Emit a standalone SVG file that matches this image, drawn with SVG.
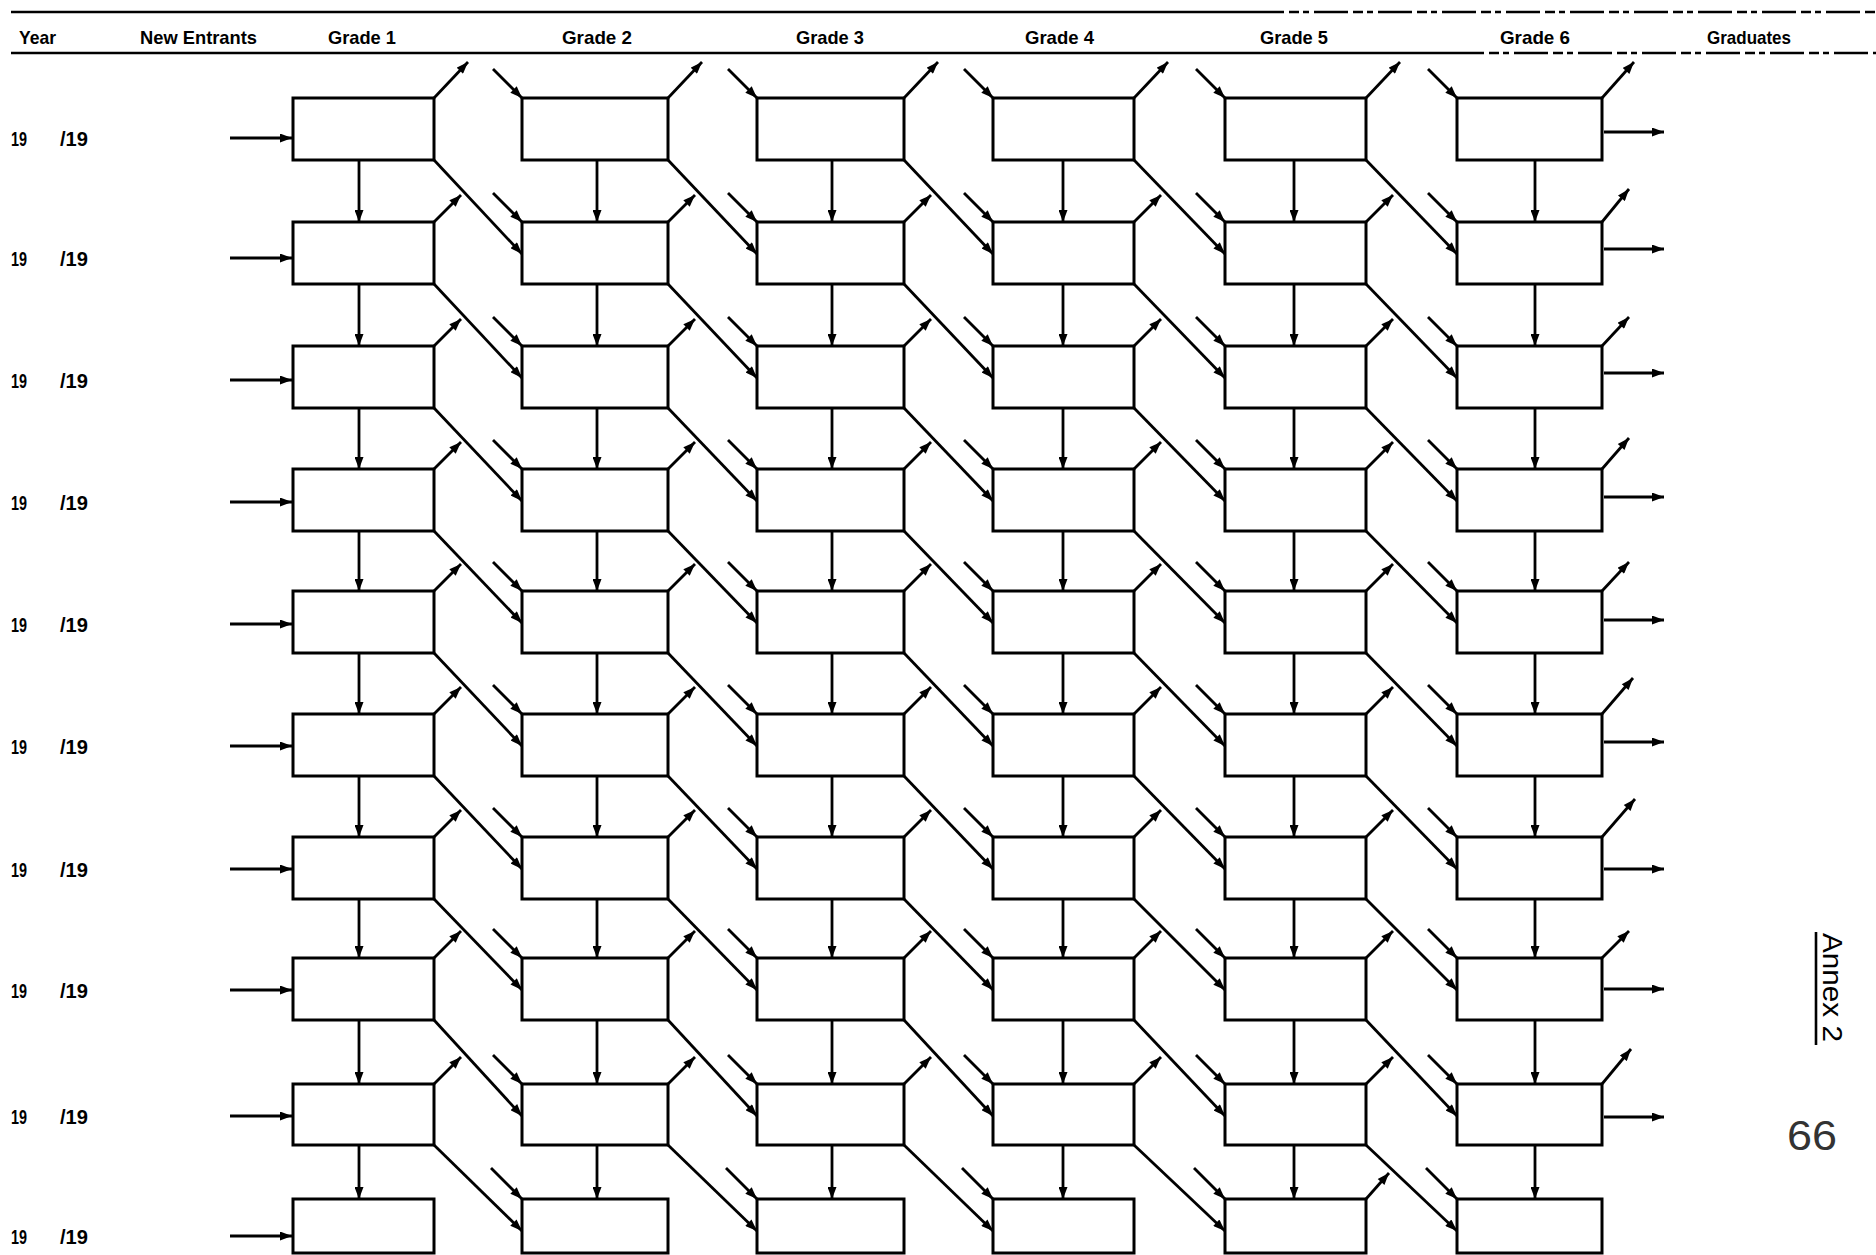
<svg xmlns="http://www.w3.org/2000/svg" width="1876" height="1255" viewBox="0 0 1876 1255">
<style>
.bg{fill:#ffffff}
.node rect{fill:none;stroke:#000;stroke-width:3}
.c line{stroke:#000;stroke-width:2.8;marker-end:url(#ah)}
.hl{stroke:#000;stroke-width:2.6}
.hd{stroke:#000;stroke-width:2.6;stroke-dasharray:34 5 10 4 6 5}
.h{font-family:"Liberation Sans",Arial,sans-serif;font-weight:bold;font-size:19px;fill:#000}
.y{font-family:"Liberation Sans",Arial,sans-serif;font-weight:bold;font-size:20px;fill:#000}
.an{font-family:"Liberation Sans",Arial,sans-serif;font-size:28px;fill:#000}
.pg{font-family:"Liberation Sans",Arial,sans-serif;font-size:42px;fill:#333}
</style>
<defs>
<marker id="ah" viewBox="0 0 12 9" refX="12" refY="4.5" markerWidth="13" markerHeight="9" markerUnits="userSpaceOnUse" orient="auto">
<path d="M0,0 L12,4.5 L0,9 z" fill="#000"/>
</marker>
</defs>
<rect class="bg" x="0" y="0" width="1876" height="1255"/>

<g id="header">
<line class="hl" x1="11" y1="12" x2="1250" y2="12"/>
<line class="hd" x1="1250" y1="12" x2="1876" y2="12"/>
<line class="hl" x1="11" y1="53" x2="1450" y2="53"/>
<line class="hd" x1="1450" y1="53" x2="1876" y2="53"/>
<text class="h" x="19" y="44" textLength="37" lengthAdjust="spacingAndGlyphs">Year</text>
<text class="h" x="140" y="44" textLength="117" lengthAdjust="spacingAndGlyphs">New Entrants</text>
<text class="h" x="328" y="44" textLength="68" lengthAdjust="spacingAndGlyphs">Grade 1</text>
<text class="h" x="562" y="44" textLength="70" lengthAdjust="spacingAndGlyphs">Grade 2</text>
<text class="h" x="796" y="44" textLength="68" lengthAdjust="spacingAndGlyphs">Grade 3</text>
<text class="h" x="1025" y="44" textLength="69" lengthAdjust="spacingAndGlyphs">Grade 4</text>
<text class="h" x="1260" y="44" textLength="68" lengthAdjust="spacingAndGlyphs">Grade 5</text>
<text class="h" x="1500" y="44" textLength="70" lengthAdjust="spacingAndGlyphs">Grade 6</text>
<text class="h" x="1707" y="44" textLength="84" lengthAdjust="spacingAndGlyphs">Graduates</text>
</g>

<g id="years">
<text class="y" x="11" y="146" textLength="16" lengthAdjust="spacingAndGlyphs">19</text><text class="y" x="60" y="146" textLength="28" lengthAdjust="spacingAndGlyphs">/19</text>
<text class="y" x="11" y="266" textLength="16" lengthAdjust="spacingAndGlyphs">19</text><text class="y" x="60" y="266" textLength="28" lengthAdjust="spacingAndGlyphs">/19</text>
<text class="y" x="11" y="388" textLength="16" lengthAdjust="spacingAndGlyphs">19</text><text class="y" x="60" y="388" textLength="28" lengthAdjust="spacingAndGlyphs">/19</text>
<text class="y" x="11" y="510" textLength="16" lengthAdjust="spacingAndGlyphs">19</text><text class="y" x="60" y="510" textLength="28" lengthAdjust="spacingAndGlyphs">/19</text>
<text class="y" x="11" y="632" textLength="16" lengthAdjust="spacingAndGlyphs">19</text><text class="y" x="60" y="632" textLength="28" lengthAdjust="spacingAndGlyphs">/19</text>
<text class="y" x="11" y="754" textLength="16" lengthAdjust="spacingAndGlyphs">19</text><text class="y" x="60" y="754" textLength="28" lengthAdjust="spacingAndGlyphs">/19</text>
<text class="y" x="11" y="877" textLength="16" lengthAdjust="spacingAndGlyphs">19</text><text class="y" x="60" y="877" textLength="28" lengthAdjust="spacingAndGlyphs">/19</text>
<text class="y" x="11" y="998" textLength="16" lengthAdjust="spacingAndGlyphs">19</text><text class="y" x="60" y="998" textLength="28" lengthAdjust="spacingAndGlyphs">/19</text>
<text class="y" x="11" y="1124" textLength="16" lengthAdjust="spacingAndGlyphs">19</text><text class="y" x="60" y="1124" textLength="28" lengthAdjust="spacingAndGlyphs">/19</text>
<text class="y" x="11" y="1244" textLength="16" lengthAdjust="spacingAndGlyphs">19</text><text class="y" x="60" y="1244" textLength="28" lengthAdjust="spacingAndGlyphs">/19</text>
</g>

<g id="boxes">
<g id="r1-g1" class="node"><rect x="293" y="98" width="141" height="62"/></g>
<g id="r1-g2" class="node"><rect x="522" y="98" width="146" height="62"/></g>
<g id="r1-g3" class="node"><rect x="757" y="98" width="147" height="62"/></g>
<g id="r1-g4" class="node"><rect x="993" y="98" width="141" height="62"/></g>
<g id="r1-g5" class="node"><rect x="1225" y="98" width="141" height="62"/></g>
<g id="r1-g6" class="node"><rect x="1457" y="98" width="145" height="62"/></g>

<g id="r2-g1" class="node"><rect x="293" y="222" width="141" height="62"/></g>
<g id="r2-g2" class="node"><rect x="522" y="222" width="146" height="62"/></g>
<g id="r2-g3" class="node"><rect x="757" y="222" width="147" height="62"/></g>
<g id="r2-g4" class="node"><rect x="993" y="222" width="141" height="62"/></g>
<g id="r2-g5" class="node"><rect x="1225" y="222" width="141" height="62"/></g>
<g id="r2-g6" class="node"><rect x="1457" y="222" width="145" height="62"/></g>

<g id="r3-g1" class="node"><rect x="293" y="346" width="141" height="62"/></g>
<g id="r3-g2" class="node"><rect x="522" y="346" width="146" height="62"/></g>
<g id="r3-g3" class="node"><rect x="757" y="346" width="147" height="62"/></g>
<g id="r3-g4" class="node"><rect x="993" y="346" width="141" height="62"/></g>
<g id="r3-g5" class="node"><rect x="1225" y="346" width="141" height="62"/></g>
<g id="r3-g6" class="node"><rect x="1457" y="346" width="145" height="62"/></g>

<g id="r4-g1" class="node"><rect x="293" y="469" width="141" height="62"/></g>
<g id="r4-g2" class="node"><rect x="522" y="469" width="146" height="62"/></g>
<g id="r4-g3" class="node"><rect x="757" y="469" width="147" height="62"/></g>
<g id="r4-g4" class="node"><rect x="993" y="469" width="141" height="62"/></g>
<g id="r4-g5" class="node"><rect x="1225" y="469" width="141" height="62"/></g>
<g id="r4-g6" class="node"><rect x="1457" y="469" width="145" height="62"/></g>

<g id="r5-g1" class="node"><rect x="293" y="591" width="141" height="62"/></g>
<g id="r5-g2" class="node"><rect x="522" y="591" width="146" height="62"/></g>
<g id="r5-g3" class="node"><rect x="757" y="591" width="147" height="62"/></g>
<g id="r5-g4" class="node"><rect x="993" y="591" width="141" height="62"/></g>
<g id="r5-g5" class="node"><rect x="1225" y="591" width="141" height="62"/></g>
<g id="r5-g6" class="node"><rect x="1457" y="591" width="145" height="62"/></g>

<g id="r6-g1" class="node"><rect x="293" y="714" width="141" height="62"/></g>
<g id="r6-g2" class="node"><rect x="522" y="714" width="146" height="62"/></g>
<g id="r6-g3" class="node"><rect x="757" y="714" width="147" height="62"/></g>
<g id="r6-g4" class="node"><rect x="993" y="714" width="141" height="62"/></g>
<g id="r6-g5" class="node"><rect x="1225" y="714" width="141" height="62"/></g>
<g id="r6-g6" class="node"><rect x="1457" y="714" width="145" height="62"/></g>

<g id="r7-g1" class="node"><rect x="293" y="837" width="141" height="62"/></g>
<g id="r7-g2" class="node"><rect x="522" y="837" width="146" height="62"/></g>
<g id="r7-g3" class="node"><rect x="757" y="837" width="147" height="62"/></g>
<g id="r7-g4" class="node"><rect x="993" y="837" width="141" height="62"/></g>
<g id="r7-g5" class="node"><rect x="1225" y="837" width="141" height="62"/></g>
<g id="r7-g6" class="node"><rect x="1457" y="837" width="145" height="62"/></g>

<g id="r8-g1" class="node"><rect x="293" y="958" width="141" height="62"/></g>
<g id="r8-g2" class="node"><rect x="522" y="958" width="146" height="62"/></g>
<g id="r8-g3" class="node"><rect x="757" y="958" width="147" height="62"/></g>
<g id="r8-g4" class="node"><rect x="993" y="958" width="141" height="62"/></g>
<g id="r8-g5" class="node"><rect x="1225" y="958" width="141" height="62"/></g>
<g id="r8-g6" class="node"><rect x="1457" y="958" width="145" height="62"/></g>

<g id="r9-g1" class="node"><rect x="293" y="1084" width="141" height="61"/></g>
<g id="r9-g2" class="node"><rect x="522" y="1084" width="146" height="61"/></g>
<g id="r9-g3" class="node"><rect x="757" y="1084" width="147" height="61"/></g>
<g id="r9-g4" class="node"><rect x="993" y="1084" width="141" height="61"/></g>
<g id="r9-g5" class="node"><rect x="1225" y="1084" width="141" height="61"/></g>
<g id="r9-g6" class="node"><rect x="1457" y="1084" width="145" height="61"/></g>

<g id="r10-g1" class="node"><rect x="293" y="1199" width="141" height="54"/></g>
<g id="r10-g2" class="node"><rect x="522" y="1199" width="146" height="54"/></g>
<g id="r10-g3" class="node"><rect x="757" y="1199" width="147" height="54"/></g>
<g id="r10-g4" class="node"><rect x="993" y="1199" width="141" height="54"/></g>
<g id="r10-g5" class="node"><rect x="1225" y="1199" width="141" height="54"/></g>
<g id="r10-g6" class="node"><rect x="1457" y="1199" width="145" height="54"/></g>
</g>

<g id="connectors" class="c">
<g id="entrants">
<line x1="230" y1="138" x2="292" y2="138"/>
<line x1="230" y1="258" x2="292" y2="258"/>
<line x1="230" y1="380" x2="292" y2="380"/>
<line x1="230" y1="502" x2="292" y2="502"/>
<line x1="230" y1="624" x2="292" y2="624"/>
<line x1="230" y1="746" x2="292" y2="746"/>
<line x1="230" y1="869" x2="292" y2="869"/>
<line x1="230" y1="990" x2="292" y2="990"/>
<line x1="230" y1="1116" x2="292" y2="1116"/>
<line x1="230" y1="1236" x2="292" y2="1236"/>
</g>
<g id="repeaters">
<line x1="359" y1="160" x2="359" y2="222"/><line x1="597" y1="160" x2="597" y2="222"/><line x1="832" y1="160" x2="832" y2="222"/><line x1="1063" y1="160" x2="1063" y2="222"/><line x1="1294" y1="160" x2="1294" y2="222"/><line x1="1535" y1="160" x2="1535" y2="222"/>
<line x1="359" y1="284" x2="359" y2="346"/><line x1="597" y1="284" x2="597" y2="346"/><line x1="832" y1="284" x2="832" y2="346"/><line x1="1063" y1="284" x2="1063" y2="346"/><line x1="1294" y1="284" x2="1294" y2="346"/><line x1="1535" y1="284" x2="1535" y2="346"/>
<line x1="359" y1="408" x2="359" y2="469"/><line x1="597" y1="408" x2="597" y2="469"/><line x1="832" y1="408" x2="832" y2="469"/><line x1="1063" y1="408" x2="1063" y2="469"/><line x1="1294" y1="408" x2="1294" y2="469"/><line x1="1535" y1="408" x2="1535" y2="469"/>
<line x1="359" y1="531" x2="359" y2="591"/><line x1="597" y1="531" x2="597" y2="591"/><line x1="832" y1="531" x2="832" y2="591"/><line x1="1063" y1="531" x2="1063" y2="591"/><line x1="1294" y1="531" x2="1294" y2="591"/><line x1="1535" y1="531" x2="1535" y2="591"/>
<line x1="359" y1="653" x2="359" y2="714"/><line x1="597" y1="653" x2="597" y2="714"/><line x1="832" y1="653" x2="832" y2="714"/><line x1="1063" y1="653" x2="1063" y2="714"/><line x1="1294" y1="653" x2="1294" y2="714"/><line x1="1535" y1="653" x2="1535" y2="714"/>
<line x1="359" y1="776" x2="359" y2="837"/><line x1="597" y1="776" x2="597" y2="837"/><line x1="832" y1="776" x2="832" y2="837"/><line x1="1063" y1="776" x2="1063" y2="837"/><line x1="1294" y1="776" x2="1294" y2="837"/><line x1="1535" y1="776" x2="1535" y2="837"/>
<line x1="359" y1="899" x2="359" y2="958"/><line x1="597" y1="899" x2="597" y2="958"/><line x1="832" y1="899" x2="832" y2="958"/><line x1="1063" y1="899" x2="1063" y2="958"/><line x1="1294" y1="899" x2="1294" y2="958"/><line x1="1535" y1="899" x2="1535" y2="958"/>
<line x1="359" y1="1020" x2="359" y2="1084"/><line x1="597" y1="1020" x2="597" y2="1084"/><line x1="832" y1="1020" x2="832" y2="1084"/><line x1="1063" y1="1020" x2="1063" y2="1084"/><line x1="1294" y1="1020" x2="1294" y2="1084"/><line x1="1535" y1="1020" x2="1535" y2="1084"/>
<line x1="359" y1="1145" x2="359" y2="1199"/><line x1="597" y1="1145" x2="597" y2="1199"/><line x1="832" y1="1145" x2="832" y2="1199"/><line x1="1063" y1="1145" x2="1063" y2="1199"/><line x1="1294" y1="1145" x2="1294" y2="1199"/><line x1="1535" y1="1145" x2="1535" y2="1199"/>
</g>
<g id="promotions">
<line x1="434" y1="160" x2="522" y2="254"/><line x1="668" y1="160" x2="757" y2="254"/><line x1="904" y1="160" x2="993" y2="254"/><line x1="1134" y1="160" x2="1225" y2="254"/><line x1="1366" y1="160" x2="1457" y2="254"/>
<line x1="434" y1="284" x2="522" y2="378"/><line x1="668" y1="284" x2="757" y2="378"/><line x1="904" y1="284" x2="993" y2="378"/><line x1="1134" y1="284" x2="1225" y2="378"/><line x1="1366" y1="284" x2="1457" y2="378"/>
<line x1="434" y1="408" x2="522" y2="501"/><line x1="668" y1="408" x2="757" y2="501"/><line x1="904" y1="408" x2="993" y2="501"/><line x1="1134" y1="408" x2="1225" y2="501"/><line x1="1366" y1="408" x2="1457" y2="501"/>
<line x1="434" y1="531" x2="522" y2="623"/><line x1="668" y1="531" x2="757" y2="623"/><line x1="904" y1="531" x2="993" y2="623"/><line x1="1134" y1="531" x2="1225" y2="623"/><line x1="1366" y1="531" x2="1457" y2="623"/>
<line x1="434" y1="653" x2="522" y2="746"/><line x1="668" y1="653" x2="757" y2="746"/><line x1="904" y1="653" x2="993" y2="746"/><line x1="1134" y1="653" x2="1225" y2="746"/><line x1="1366" y1="653" x2="1457" y2="746"/>
<line x1="434" y1="776" x2="522" y2="869"/><line x1="668" y1="776" x2="757" y2="869"/><line x1="904" y1="776" x2="993" y2="869"/><line x1="1134" y1="776" x2="1225" y2="869"/><line x1="1366" y1="776" x2="1457" y2="869"/>
<line x1="434" y1="899" x2="522" y2="990"/><line x1="668" y1="899" x2="757" y2="990"/><line x1="904" y1="899" x2="993" y2="990"/><line x1="1134" y1="899" x2="1225" y2="990"/><line x1="1366" y1="899" x2="1457" y2="990"/>
<line x1="434" y1="1020" x2="522" y2="1116"/><line x1="668" y1="1020" x2="757" y2="1116"/><line x1="904" y1="1020" x2="993" y2="1116"/><line x1="1134" y1="1020" x2="1225" y2="1116"/><line x1="1366" y1="1020" x2="1457" y2="1116"/>
<line x1="434" y1="1145" x2="522" y2="1231"/><line x1="668" y1="1145" x2="757" y2="1231"/><line x1="904" y1="1145" x2="993" y2="1231"/><line x1="1134" y1="1145" x2="1225" y2="1231"/><line x1="1366" y1="1145" x2="1457" y2="1231"/>
</g>
<g id="inflows">
<line x1="493" y1="69" x2="522" y2="98"/><line x1="728" y1="69" x2="757" y2="98"/><line x1="964" y1="69" x2="993" y2="98"/><line x1="1196" y1="69" x2="1225" y2="98"/><line x1="1428" y1="69" x2="1457" y2="98"/>
<line x1="493" y1="193" x2="522" y2="222"/><line x1="728" y1="193" x2="757" y2="222"/><line x1="964" y1="193" x2="993" y2="222"/><line x1="1196" y1="193" x2="1225" y2="222"/><line x1="1428" y1="193" x2="1457" y2="222"/>
<line x1="493" y1="317" x2="522" y2="346"/><line x1="728" y1="317" x2="757" y2="346"/><line x1="964" y1="317" x2="993" y2="346"/><line x1="1196" y1="317" x2="1225" y2="346"/><line x1="1428" y1="317" x2="1457" y2="346"/>
<line x1="493" y1="440" x2="522" y2="469"/><line x1="728" y1="440" x2="757" y2="469"/><line x1="964" y1="440" x2="993" y2="469"/><line x1="1196" y1="440" x2="1225" y2="469"/><line x1="1428" y1="440" x2="1457" y2="469"/>
<line x1="493" y1="562" x2="522" y2="591"/><line x1="728" y1="562" x2="757" y2="591"/><line x1="964" y1="562" x2="993" y2="591"/><line x1="1196" y1="562" x2="1225" y2="591"/><line x1="1428" y1="562" x2="1457" y2="591"/>
<line x1="493" y1="685" x2="522" y2="714"/><line x1="728" y1="685" x2="757" y2="714"/><line x1="964" y1="685" x2="993" y2="714"/><line x1="1196" y1="685" x2="1225" y2="714"/><line x1="1428" y1="685" x2="1457" y2="714"/>
<line x1="493" y1="808" x2="522" y2="837"/><line x1="728" y1="808" x2="757" y2="837"/><line x1="964" y1="808" x2="993" y2="837"/><line x1="1196" y1="808" x2="1225" y2="837"/><line x1="1428" y1="808" x2="1457" y2="837"/>
<line x1="493" y1="929" x2="522" y2="958"/><line x1="728" y1="929" x2="757" y2="958"/><line x1="964" y1="929" x2="993" y2="958"/><line x1="1196" y1="929" x2="1225" y2="958"/><line x1="1428" y1="929" x2="1457" y2="958"/>
<line x1="493" y1="1055" x2="522" y2="1084"/><line x1="728" y1="1055" x2="757" y2="1084"/><line x1="964" y1="1055" x2="993" y2="1084"/><line x1="1196" y1="1055" x2="1225" y2="1084"/><line x1="1428" y1="1055" x2="1457" y2="1084"/>
<line x1="491" y1="1168" x2="522" y2="1199"/><line x1="726" y1="1168" x2="757" y2="1199"/><line x1="962" y1="1168" x2="993" y2="1199"/><line x1="1194" y1="1168" x2="1225" y2="1199"/><line x1="1426" y1="1168" x2="1457" y2="1199"/>
</g>
<g id="dropouts">
<line x1="434" y1="98" x2="468" y2="62"/><line x1="668" y1="98" x2="702" y2="62"/><line x1="904" y1="98" x2="938" y2="62"/><line x1="1134" y1="98" x2="1168" y2="62"/><line x1="1366" y1="98" x2="1400" y2="62"/><line x1="1602" y1="98" x2="1634" y2="62"/>
<line x1="434" y1="222" x2="461" y2="195"/><line x1="668" y1="222" x2="695" y2="195"/><line x1="904" y1="222" x2="931" y2="195"/><line x1="1134" y1="222" x2="1161" y2="195"/><line x1="1366" y1="222" x2="1393" y2="195"/><line x1="1602" y1="222" x2="1629" y2="189"/>
<line x1="434" y1="346" x2="461" y2="319"/><line x1="668" y1="346" x2="695" y2="319"/><line x1="904" y1="346" x2="931" y2="319"/><line x1="1134" y1="346" x2="1161" y2="319"/><line x1="1366" y1="346" x2="1393" y2="319"/><line x1="1602" y1="346" x2="1629" y2="317"/>
<line x1="434" y1="469" x2="461" y2="442"/><line x1="668" y1="469" x2="695" y2="442"/><line x1="904" y1="469" x2="931" y2="442"/><line x1="1134" y1="469" x2="1161" y2="442"/><line x1="1366" y1="469" x2="1393" y2="442"/><line x1="1602" y1="469" x2="1629" y2="438"/>
<line x1="434" y1="591" x2="461" y2="564"/><line x1="668" y1="591" x2="695" y2="564"/><line x1="904" y1="591" x2="931" y2="564"/><line x1="1134" y1="591" x2="1161" y2="564"/><line x1="1366" y1="591" x2="1393" y2="564"/><line x1="1602" y1="591" x2="1629" y2="562"/>
<line x1="434" y1="714" x2="461" y2="687"/><line x1="668" y1="714" x2="695" y2="687"/><line x1="904" y1="714" x2="931" y2="687"/><line x1="1134" y1="714" x2="1161" y2="687"/><line x1="1366" y1="714" x2="1393" y2="687"/><line x1="1602" y1="714" x2="1633" y2="678"/>
<line x1="434" y1="837" x2="461" y2="810"/><line x1="668" y1="837" x2="695" y2="810"/><line x1="904" y1="837" x2="931" y2="810"/><line x1="1134" y1="837" x2="1161" y2="810"/><line x1="1366" y1="837" x2="1393" y2="810"/><line x1="1602" y1="837" x2="1635" y2="799"/>
<line x1="434" y1="958" x2="461" y2="931"/><line x1="668" y1="958" x2="695" y2="931"/><line x1="904" y1="958" x2="931" y2="931"/><line x1="1134" y1="958" x2="1161" y2="931"/><line x1="1366" y1="958" x2="1393" y2="931"/><line x1="1602" y1="958" x2="1629" y2="931"/>
<line x1="434" y1="1084" x2="461" y2="1057"/><line x1="668" y1="1084" x2="695" y2="1057"/><line x1="904" y1="1084" x2="931" y2="1057"/><line x1="1134" y1="1084" x2="1161" y2="1057"/><line x1="1366" y1="1084" x2="1393" y2="1057"/><line x1="1602" y1="1084" x2="1631" y2="1049"/>
<line x1="1366" y1="1199" x2="1389" y2="1173"/>
</g>
<g id="graduates">
<line x1="1604" y1="132" x2="1664" y2="132"/>
<line x1="1604" y1="249" x2="1664" y2="249"/>
<line x1="1604" y1="373" x2="1664" y2="373"/>
<line x1="1604" y1="497" x2="1664" y2="497"/>
<line x1="1604" y1="620" x2="1664" y2="620"/>
<line x1="1604" y1="742" x2="1664" y2="742"/>
<line x1="1604" y1="869" x2="1664" y2="869"/>
<line x1="1604" y1="989" x2="1664" y2="989"/>
<line x1="1604" y1="1117" x2="1664" y2="1117"/>
</g>
</g>

<g id="annex">
<line x1="1816" y1="932" x2="1816" y2="1045" stroke="#000" stroke-width="2.6"/>
<text class="an" transform="translate(1823,933) rotate(90)" x="0" y="0" textLength="109" lengthAdjust="spacingAndGlyphs">Annex 2</text>
</g>
<text class="pg" x="1787" y="1150" textLength="50" lengthAdjust="spacingAndGlyphs">66</text>
</svg>
